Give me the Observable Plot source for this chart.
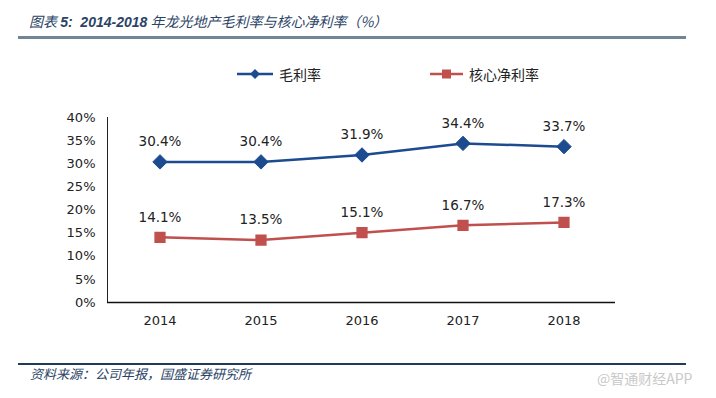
<!DOCTYPE html>
<html>
<head>
<meta charset="utf-8">
<script src="https://cdn.jsdelivr.net/npm/d3@7"></script>
<script src="https://cdn.jsdelivr.net/npm/@observablehq/plot@0.6"></script>
<style>
  html, body { margin: 0; padding: 0; background: #fff; }
  #wrap { position: relative; width: 716px; height: 398px; overflow: hidden; background: #fff; }
  #chart { position: absolute; left: 0; top: 0; }
  .abs { position: absolute; white-space: nowrap; }
  #title { left: 29px; top: 11px; font-family: "Noto Sans CJK SC", sans-serif; font-style: italic; font-size: 14px; color: #2b4466; }
  #title b { font-family: "Liberation Sans", sans-serif; font-weight: bold; }
  #rule1 { left: 18px; top: 36px; width: 668px; height: 3px; background: #6f8696; }
  #rule2 { left: 18px; top: 363px; width: 668px; height: 2px; background: #1f3b57; }
  #source { left: 30px; top: 364px; font-family: "Noto Sans CJK SC", sans-serif; font-style: italic; font-size: 13px; color: #2b4466; }
  #wm { left: 597px; top: 368px; font-family: "Noto Sans CJK SC", sans-serif; font-size: 14px; color: #c9c9c9; }
  .leg { font-family: "Noto Sans CJK SC", sans-serif; font-size: 14px; color: #222; top: 64px; }
</style>
</head>
<body>
<div id="wrap">
  <div id="chart"></div>
  <div id="title" class="abs">图表 <b>5:&nbsp; 2014-2018</b> 年龙光地产毛利率与核心净利率（%）</div>
  <div id="rule1" class="abs"></div>
  <div id="legend"></div>
  <div id="rule2" class="abs"></div>
  <div id="source" class="abs">资料来源：公司年报，国盛证券研究所</div>
  <div id="wm" class="abs">@智通财经APP</div>
</div>
<script>
const years = ["2014", "2015", "2016", "2017", "2018"];
const grossMargin = [30.4, 30.4, 31.9, 34.4, 33.7];
const coreNetMargin = [14.1, 13.5, 15.1, 16.7, 17.3];
const seriesNames = ["毛利率", "核心净利率"];
const seriesColors = ["#1c4b8f", "#c0504d"];
const yTicks = [0, 5, 10, 15, 20, 25, 30, 35, 40];

const rows = [];
years.forEach((yr, i) => {
  rows.push({year: yr, value: grossMargin[i], series: seriesNames[0]});
  rows.push({year: yr, value: coreNetMargin[i], series: seriesNames[1]});
});
const gRows = rows.filter(d => d.series === seriesNames[0]);
const nRows = rows.filter(d => d.series === seriesNames[1]);

const chart = Plot.plot({
  width: 716,
  height: 398,
  marginLeft: 107,
  marginRight: 101,
  marginTop: 117,
  marginBottom: 96,
  style: {fontFamily: "DejaVu Sans, Verdana, sans-serif", fontSize: "13px", color: "#222", background: "transparent"},
  x: {type: "band", domain: years, padding: 0, label: null, tickSize: 0, tickPadding: 13},
  y: {domain: [0, 40], ticks: yTicks, tickFormat: d => d + "%", label: null, tickSize: 0, tickPadding: 12, line: true},
  marks: [
    Plot.ruleY([0], {stroke: "#111", strokeWidth: 1.5}),
    Plot.line(gRows, {x: "year", y: "value", stroke: seriesColors[0], strokeWidth: 2.5}),
    Plot.line(nRows, {x: "year", y: "value", stroke: seriesColors[1], strokeWidth: 2.5}),
    Plot.dot(gRows, {x: "year", y: "value", symbol: "diamond2", r: 6.5, fill: seriesColors[0], stroke: seriesColors[0], strokeWidth: 1}),
    Plot.dot(nRows, {x: "year", y: "value", symbol: "square", r: 5.5, fill: seriesColors[1], stroke: seriesColors[1]}),
    Plot.text(rows, {x: "year", y: "value", text: d => d.value.toFixed(1) + "%", dy: -20, fill: "#222", fontSize: 13.5})
  ]
});
document.getElementById("chart").appendChild(chart);

// legend built from series names/colors
const legend = document.getElementById("legend");
const legPos = [{x: 237, w: 36}, {x: 430, w: 33}];
seriesNames.forEach((name, i) => {
  const sw = document.createElementNS("http://www.w3.org/2000/svg", "svg");
  sw.setAttribute("width", legPos[i].w);
  sw.setAttribute("height", 14);
  sw.style.position = "absolute";
  sw.style.left = legPos[i].x + "px";
  sw.style.top = "67px";
  const c = legPos[i].w / 2;
  sw.innerHTML = `<line x1="0" x2="${legPos[i].w}" y1="7" y2="7" stroke="${seriesColors[i]}" stroke-width="2.5"/>` +
    (i === 0
      ? `<path d="M${c},2L${c + 5},7L${c},12L${c - 5},7Z" fill="${seriesColors[i]}"/>`
      : `<rect x="${c - 4.5}" y="2.5" width="9" height="9" fill="${seriesColors[i]}"/>`);
  legend.appendChild(sw);
  const t = document.createElement("div");
  t.className = "abs leg";
  t.style.left = (legPos[i].x + legPos[i].w + 6) + "px";
  t.textContent = name;
  legend.appendChild(t);
});
</script>
</body>
</html>
